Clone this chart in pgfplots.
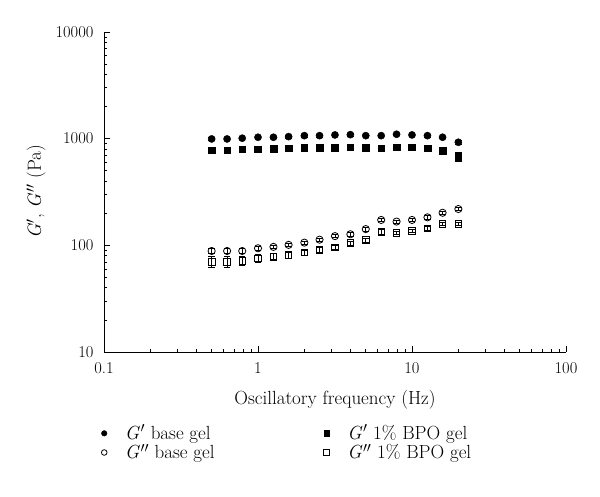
\documentclass[border=0pt]{standalone}
\usepackage{fontspec}
\usepackage{pgfplots}
\usepackage{pgfplotstable}
\pgfplotsset{compat=1.18}
\newcommand{\Gp}{\textit{G}\kern0.5pt$'$}
\newcommand{\Gpp}{\textit{G}\kern0.5pt$''$}

\pgfplotstableread{
x y e
0.5 994 30
0.63 994 30
0.79 1010 30
1.0 1031 30
1.26 1031 30
1.58 1045 30
2.0 1067 30
2.51 1067 30
3.16 1084 30
3.98 1090 30
5.01 1067 30
6.31 1067 30
7.94 1100 30
10 1084 30
12.6 1067 30
15.8 1031 30
20 925 40
}\gpbase

\pgfplotstableread{
x y e
0.5 783 40
0.63 783 40
0.79 796 40
1.0 796 40
1.26 806 40
1.58 812 40
2.0 818 40
2.51 818 40
3.16 824 40
3.98 830 40
5.01 824 40
6.31 812 40
7.94 830 40
10 830 40
12.6 812 40
15.8 773 60
20 678 70
}\gpbpo

\pgfplotstableread{
x y e
0.5 88.5 5
0.63 88.5 5
0.79 88.5 5
1.0 93.9 4
1.26 96.7 4
1.58 101 4
2.0 106 4
2.51 113 4
3.16 122 4
3.98 127 5
5.01 142 6
6.31 173 6
7.94 167 6
10 173 6
12.6 183 6
15.8 202 6
20 219 6
}\gppbase

\pgfplotstableread{
x y e
0.5 70.3 8
0.63 70.3 8
0.79 71.4 7
1.0 75.7 6
1.26 78.4 5
1.58 81.3 5
2.0 85.5 5
2.51 90.6 5
3.16 96 5
3.98 105 5
5.01 112 5
6.31 134 6
7.94 131.5 5
10 136.5 5
12.6 144.6 5
15.8 159 5
20 159 5
}\gppbpo

\begin{document}
\fontsize{16}{19}\selectfont
\begin{tikzpicture}
\useasboundingbox (0,0) rectangle (600pt,497pt);
\begin{axis}[
  at={(104pt,145pt)}, anchor=south west,
  scale only axis, width=462pt, height=320pt,
  xmode=log, ymode=log,
  xmin=0.1, xmax=100, ymin=10, ymax=10000,
  axis lines=left,
  axis line style={-, line width=0.8pt},
  tick align=inside,
  major tick length=6pt, minor tick length=3.5pt,
  every tick/.style={black, line width=0.7pt},
  xtick={0.1,1,10,100}, xticklabels={0.1,1,10,100},
  ytick={10,100,1000,10000}, yticklabels={10,100,1000,10000},
  minor xtick={0.2,0.3,0.4,0.5,0.6,0.7,0.8,0.9,2,3,4,5,6,7,8,9,20,30,40,50,60,70,80,90},
  minor ytick={20,30,40,50,60,70,80,90,200,300,400,500,600,700,800,900,2000,3000,4000,5000,6000,7000,8000,9000},
  tick label style={font=\fontsize{16.5}{19}\selectfont},
  xticklabel style={yshift=-5pt},
  yticklabel style={xshift=-5pt},
  label style={font=\fontsize{19}{23}\selectfont},
  xlabel={Oscillatory frequency (Hz)},
  ylabel={\Gp, \Gpp\ (Pa)},
  xlabel style={at={(axis description cs:0.5,-0.148)}, anchor=center},
  ylabel style={at={(axis description cs:-0.147,0.5)}, anchor=center},
  clip=false,
  legend columns=2,
  legend cell align=left,
  legend style={draw=none, fill=none, at={(axis description cs:-0.013,-0.215)}, anchor=north west,
    font=\fontsize{19}{23}\selectfont, row sep=-1.5pt,
    /tikz/column 2/.style={column sep=107pt}},
  legend image code/.code={\draw[#1, mark size=2.8pt] plot coordinates {(0.1cm,0cm)}; \path (0cm,0cm) (0.75cm,0cm);},
  error bars/y dir=both, error bars/y explicit,
  error bars/error bar style={line width=0.7pt, black},
  error bars/error mark options={rotate=90, mark size=3.2pt, line width=0.7pt, black},
]
\addplot[only marks, mark=*, mark size=3.6pt, black] table[x=x, y=y, y error=e] {\gpbase};
\addlegendentry{\Gp\ base gel}
\addplot[only marks, mark=square*, mark size=3.3pt, black] table[x=x, y=y, y error=e] {\gpbpo};
\addlegendentry{\Gp\ 1\% BPO gel}
\addplot[only marks, mark=o, mark size=3.6pt, black, mark options={fill=white, line width=0.8pt}] table[x=x, y=y, y error=e] {\gppbase};
\addlegendentry{\Gpp\ base gel}
\addplot[only marks, mark=square, mark size=3.3pt, black, mark options={fill=white, line width=0.8pt}] table[x=x, y=y, y error=e] {\gppbpo};
\addlegendentry{\Gpp\ 1\% BPO gel}
\end{axis}
\end{tikzpicture}
\end{document}
